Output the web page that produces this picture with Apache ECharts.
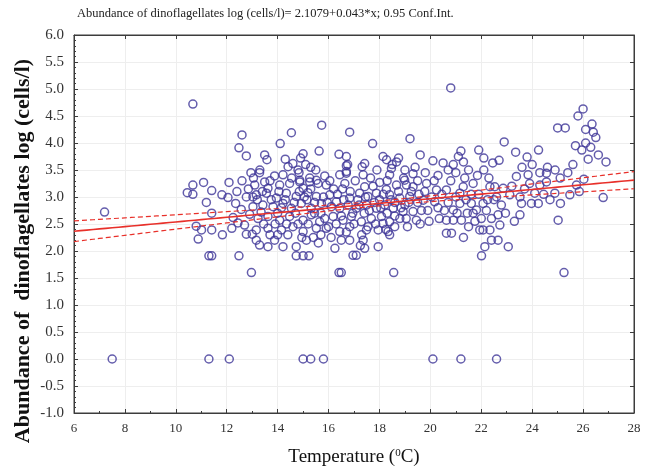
<!DOCTYPE html>
<html>
<head>
<meta charset="utf-8">
<script src="https://cdn.jsdelivr.net/npm/echarts@6/dist/echarts.min.js"></script>
<style>
  html, body { margin: 0; padding: 0; background: #ffffff; }
  #chart { width: 645px; height: 476px; }
</style>
</head>
<body>
<div id="chart"></div>
<script>
// Axis ranges and tick spacing
const xTicks = { min: 6, max: 28, step: 2 };
const yTicks = { min: -1, max: 6, step: 0.5 };

// Fitted line: log abundance = INTERCEPT + SLOPE * temperature
const INTERCEPT = 2.1079;
const SLOPE = 0.043;
// 0.95 confidence band half-width: narrowest near the mean temperature
const CI_CENTER_T = 18.1;
const CI_HALF_MIN = 0.045;
const CI_SLOPE_ERR = 0.0154;

// Observations [temperature °C, log abundance], grouped by temperature
const obsCool = [
  [7.2,2.72],
  [10.45,3.08],[10.67,3.22],[10.67,3.05],[10.67,4.72],[10.8,2.46],[10.88,2.22],[11.01,2.39],[11.09,3.27],
  [11.2,2.90],[11.3,1.91],[11.41,1.91],[11.41,3.12],[11.41,2.70],[11.41,2.39],
  [11.81,3.04],[11.83,2.30],[12.05,2.99],[12.09,3.27],[12.48,1.91],[12.44,2.52],[12.48,3.91],[12.6,4.15],
  [12.57,2.77],[12.25,2.62],[12.35,2.88],[12.4,3.1],[12.2,2.42],
  [12.7,2.48],[12.77,2.31],[12.77,3.0],[12.77,3.76],[13.0,2.31],[13.03,3.0],[13.1,3.22],[13.16,2.20],
  [12.97,1.60],[13.3,3.5],[13.49,3.78],[13.58,3.69],[13.29,3.45],[13.16,3.04],[13.03,2.82],[13.42,2.85],
  [13.23,2.6],[13.16,2.39],[13.29,2.11],[13.49,3.28],[12.9,2.68],[13.35,2.72],[12.6,3.3],[12.95,3.45],
  [12.85,3.15],[13.05,3.35],[13.2,2.95],[13.4,3.1],[13.45,2.5]
];

const obsMid = [
  [13.88,3.39],[14.21,3.41],[14.84,3.45],[15.26,3.35],[15.85,3.39],[16.44,3.41],[16.70,3.44],[17.36,3.41],
  [18.40,3.41],[19.32,3.43],[18.99,3.31],
  [13.62,3.16],[14.08,3.22],[14.47,3.25],[14.87,3.28],[15.0,3.16],[15.59,3.25],[15.91,3.22],[16.64,3.25],
  [17.42,3.19],[18.01,3.27],[18.27,3.14],[18.67,3.22],[19.06,3.22],[19.32,3.19],[19.78,3.1],[20.24,3.13],
  [13.56,3.07],[13.95,2.98],[14.34,3.07],[14.73,3.01],[15.19,3.08],[15.52,3.01],[16.05,3.04],[16.31,2.91],
  [16.83,2.98],[17.22,3.07],[17.55,3.01],[17.88,3.07],[18.4,3.04],[18.8,2.98],[19.19,3.01],[19.72,2.94],[20.17,2.91],
  [13.82,2.82],[14.21,2.88],[14.54,2.79],[14.93,2.88],[15.32,2.79],[15.72,2.88],[16.11,2.82],[16.44,2.79],
  [16.77,2.85],[17.09,2.79],[17.49,2.85],[17.88,2.79],[18.21,2.85],[18.54,2.79],[18.93,2.73],[19.32,2.73],
  [13.62,2.64],[14.08,2.57],[14.47,2.64],[15.0,2.57],[15.32,2.67],[15.65,2.54],[16.18,2.64],[16.57,2.57],
  [16.9,2.64],[17.29,2.54],[17.68,2.6],[18.08,2.64],[18.4,2.54],[18.8,2.6],[19.45,2.57],
  [13.62,2.42],[14.15,2.39],[14.6,2.45],[15.0,2.36],[15.52,2.42],[15.91,2.42],[16.44,2.36],[16.83,2.45],
  [17.49,2.39],[17.95,2.39],[18.34,2.36],[18.14,2.51],
  [13.62,2.08],[13.88,2.2],[14.21,2.08],[14.73,2.08],[15.13,2.2],[16.5,2.2],[16.83,2.2],[17.36,2.2],
  [17.42,2.05],[17.95,2.08],[18.4,2.3],
  [14.73,1.91],[15.0,1.91],[15.23,1.91],[16.96,1.92],[17.09,1.92],[16.41,1.6],[16.5,1.6],[18.56,1.6],
  [14.1,3.99],[14.54,4.19],[15.73,4.33],[15.63,3.85],[16.41,3.79],[16.7,3.75],[16.83,4.2],[16.7,3.58],
  [16.7,3.47],[14.41,3.56],[14.8,3.5],[17.73,3.99],[17.32,3.56],[17.42,3.62],[18.14,3.75],[18.28,3.69],
  [18.47,3.53],[18.67,3.65],[14.87,3.31],[15.52,3.31],[15.26,3.28],
  [14.3,3.7],[14.6,3.62],[14.9,3.72],[15.1,3.6],[15.3,3.55],[15.0,3.8],
  [19.2,4.08],[19.6,3.78],[18.75,3.72],[20.1,3.67],[20.5,3.63],[19.0,3.5],[19.8,3.45],[20.3,3.4],[19.5,3.3],
  [19.6,2.5],[20.3,2.8],[19.9,2.75],
  [13.75,2.95],[14.0,2.7],[14.35,2.5],[14.7,2.7],[14.85,3.1],[15.15,2.95],[15.45,2.7],[15.8,3.0],
  [15.85,2.6],[16.2,3.15],[16.3,2.5],[16.6,2.95],[16.95,2.7],[17.15,2.95],[17.3,2.3],[17.6,2.75],
  [17.75,3.2],[18.0,2.95],[18.3,2.7],[18.6,2.9],[18.6,2.45],[19.0,2.85],[19.1,2.45],[19.5,2.9],
  [14.0,2.3],[15.4,2.25],[15.7,2.3],[16.1,2.25],
  [13.7,2.3],[13.7,3.3],[13.9,2.5],[14.05,3.1],[14.15,2.8],[14.3,2.95],[14.4,2.3],[14.55,3.35],
  [14.65,2.9],[14.8,2.5],[14.95,2.25],[15.05,3.0],[15.2,2.5],[15.3,3.15],[15.45,2.9],[15.5,3.5],
  [15.6,2.15],[15.7,2.7],[15.95,2.9],[16.0,2.45],[16.05,3.3],[16.25,2.05],[16.35,3.05],[16.5,2.65],
  [16.55,3.15],[16.7,2.35],[16.75,3.6],[16.85,3.1],[17.0,2.5],[17.05,3.3],[17.2,2.85],[17.25,2.1],
  [17.4,2.7],[17.45,3.0],[17.55,2.45],[17.65,3.35],[17.8,2.9],[17.85,2.5],[17.9,3.5],[18.05,2.8],
  [18.15,3.05],[18.25,2.4],[18.3,3.3],[18.45,2.95],[18.5,3.6],[18.6,2.65],[18.75,3.1],[18.85,2.8],
  [18.95,3.35],[19.05,2.6],[19.15,2.9],[19.25,3.1],[19.4,3.55],[19.55,3.05],[19.65,2.75],[19.85,3.25],
  [19.95,2.55],[20.05,3.0],[20.15,3.3],[20.35,2.6],[20.45,3.05]
];

const obsWarm = [
  [20.63,3.13],[21.29,3.19],[21.68,3.25],[22.34,3.19],[22.53,3.19],[22.86,3.16],[23.38,3.38],[23.84,3.41],
  [24.56,3.44],[24.56,3.28],[24.3,3.22],[24.1,3.07],[23.97,2.88],[23.58,2.88],[23.52,2.67],[23.12,3.04],
  [22.79,2.85],[22.66,2.67],[22.73,2.48],[22.4,2.6],[22.34,2.39],[22.07,2.39],[21.94,2.39],[22.14,2.08],
  [22.01,1.91],[22.4,2.2],[22.66,2.2],[23.06,2.08],[21.68,2.7],[21.61,2.88],[21.16,2.88],[20.9,2.76],
  [20.63,2.57],[20.9,2.57],[21.22,2.57],[20.83,2.33],[20.63,2.33],[21.81,2.76],[22.07,2.88],[21.16,3.07],
  [24.89,3.07],[25.11,2.88],[25.02,2.57],[25.25,1.6],[25.48,3.04],[25.85,3.1],[25.74,3.22],[26.03,3.33],
  [26.79,2.99],[24.24,2.88],[23.52,3.0],
  [20.8,3.3],[21.0,3.0],[20.7,2.9],[21.4,2.95],[21.5,2.45],[21.3,2.25],[21.9,3.05],[22.2,2.75],[22.5,2.95],
  [20.8,5.02],[22.9,4.02],[23.35,3.83],[23.8,3.74],[24.25,3.87],[24.6,3.55],[25.0,4.28],[25.3,4.28],
  [25.1,3.35],[25.4,3.45],[25.6,3.6],[25.8,4.5],[26.0,4.63],[26.1,4.25],[26.35,4.35],[26.4,4.2],
  [26.5,4.1],[26.3,3.92],[26.1,4.0],[25.95,3.87],[26.6,3.78],[26.9,3.65],[22.45,3.63],[22.1,3.5],
  [22.7,3.68],[20.9,3.6],[21.1,3.75],[21.3,3.65],[21.2,3.85],[21.9,3.87],[22.1,3.72],[21.0,3.45],
  [21.5,3.5],[23.6,3.55],[24.0,3.6],[24.9,3.5],[24.3,3.45],[25.7,3.95],[26.2,3.7],
  [20.55,2.75],[20.7,3.5],[21.05,2.7],[21.35,3.35],[21.45,2.7],[21.6,3.05],[21.75,2.55],[21.85,3.4],
  [22.0,2.6],[22.25,2.95],[22.3,3.35],[22.6,3.0],[22.95,2.7],[23.2,3.2],[23.3,2.55],[23.7,3.15],
  [23.9,3.25],[24.45,3.05],[24.7,2.95]
];

// Samples below detection (log abundance 0)
const obsZero = [
  [7.5,0],[11.3,0],[12.1,0],[15.0,0],[15.3,0],[15.8,0],[20.1,0],[21.2,0],[22.6,0]
];

const observations = [].concat(obsCool, obsMid, obsWarm, obsZero);

// Regression line and confidence limits sampled across the temperature axis
function fitAt(t) { return INTERCEPT + SLOPE * t; }
function ciHalf(t) {
  const d = CI_SLOPE_ERR * (t - CI_CENTER_T);
  return Math.sqrt(CI_HALF_MIN * CI_HALF_MIN + d * d);
}
const fitLine = [], upperBand = [], lowerBand = [];
for (let t = xTicks.min; t <= xTicks.max + 1e-9; t += 0.25) {
  fitLine.push([t, fitAt(t)]);
  upperBand.push([t, fitAt(t) + ciHalf(t)]);
  lowerBand.push([t, fitAt(t) - ciHalf(t)]);
}

const SERIF = "'Liberation Serif', 'DejaVu Serif', serif";
const axisColor = '#3c3c3c';
const labelColor = '#333333';
const gridColor = '#eeeeee';

const chart = echarts.init(document.getElementById('chart'), null, { renderer: 'canvas' });

const tickIn = { show: true, inside: true, length: 4, lineStyle: { color: axisColor } };
const minorIn = { show: true, splitNumber: 5, length: 2, lineStyle: { color: axisColor } };

chart.setOption({
  animation: false,
  backgroundColor: '#ffffff',
  title: {
    text: 'Abundance of dinoflagellates log (cells/l)= 2.1079+0.043*x; 0.95 Conf.Int.',
    left: 77,
    top: 7,
    padding: 0,
    textStyle: { fontFamily: SERIF, fontSize: 12.5, fontWeight: 'normal', color: '#222222' }
  },
  graphic: [
    {
      type: 'text',
      x: 23, y: 251,
      rotation: Math.PI / 2,
      style: {
        text: 'Abundance of  dinoflagellates log (cells/l)',
        font: "bold 22px 'Liberation Serif', serif",
        fill: '#111111',
        align: 'center',
        verticalAlign: 'middle'
      }
    }
  ],
  grid: {
    left: 74, right: 11, top: 35, bottom: 63,
    show: true, borderColor: axisColor, borderWidth: 1, backgroundColor: 'transparent'
  },
  xAxis: [
    {
      type: 'value', min: xTicks.min, max: xTicks.max, interval: xTicks.step,
      position: 'bottom',
      name: '{t|Temperature (}{s|0}{t|C)}',
      nameLocation: 'middle', nameGap: 35,
      nameTextStyle: {
        rich: {
          t: { fontFamily: SERIF, fontSize: 19, color: '#111111', verticalAlign: 'bottom' },
          s: { fontFamily: SERIF, fontSize: 11, color: '#111111', verticalAlign: 'top' }
        }
      },
      axisLine: { show: true, onZero: false, lineStyle: { color: axisColor } },
      axisTick: tickIn,
      minorTick: { show: true, splitNumber: 2, length: 2, lineStyle: { color: axisColor } },
      axisLabel: { margin: 9, fontFamily: SERIF, fontSize: 13, color: labelColor },
      splitLine: { show: true, lineStyle: { color: gridColor, width: 1 } }
    },
    {
      type: 'value', min: xTicks.min, max: xTicks.max, interval: xTicks.step,
      position: 'top',
      axisLine: { show: true, onZero: false, lineStyle: { color: axisColor } },
      axisTick: tickIn,
      axisLabel: { show: false },
      splitLine: { show: false }
    }
  ],
  yAxis: [
    {
      type: 'value', min: yTicks.min, max: yTicks.max, interval: yTicks.step,
      position: 'left',
      axisLine: { show: true, onZero: false, lineStyle: { color: axisColor } },
      axisTick: tickIn,
      minorTick: minorIn,
      axisLabel: {
        margin: 10, fontFamily: SERIF, fontSize: 15, color: labelColor,
        formatter: v => v.toFixed(1)
      },
      splitLine: { show: true, lineStyle: { color: gridColor, width: 1 } }
    },
    {
      type: 'value', min: yTicks.min, max: yTicks.max, interval: yTicks.step,
      position: 'right',
      axisLine: { show: true, onZero: false, lineStyle: { color: axisColor } },
      axisTick: tickIn,
      axisLabel: { show: false },
      splitLine: { show: false }
    }
  ],
  series: [
    {
      type: 'scatter',
      data: observations,
      symbol: 'circle',
      symbolSize: 8,
      itemStyle: { color: 'rgba(0,0,0,0)', borderColor: '#3d3597', borderWidth: 1.5 },
      z: 2
    },
    {
      type: 'line', data: fitLine, showSymbol: false, symbol: 'none',
      lineStyle: { color: '#e8302a', width: 1.6 }, z: 5
    },
    {
      type: 'line', data: upperBand, showSymbol: false, symbol: 'none',
      lineStyle: { color: '#e8302a', width: 1.2, type: [5, 3] }, z: 5
    },
    {
      type: 'line', data: lowerBand, showSymbol: false, symbol: 'none',
      lineStyle: { color: '#e8302a', width: 1.2, type: [5, 3] }, z: 5
    }
  ]
});
</script>
</body>
</html>
